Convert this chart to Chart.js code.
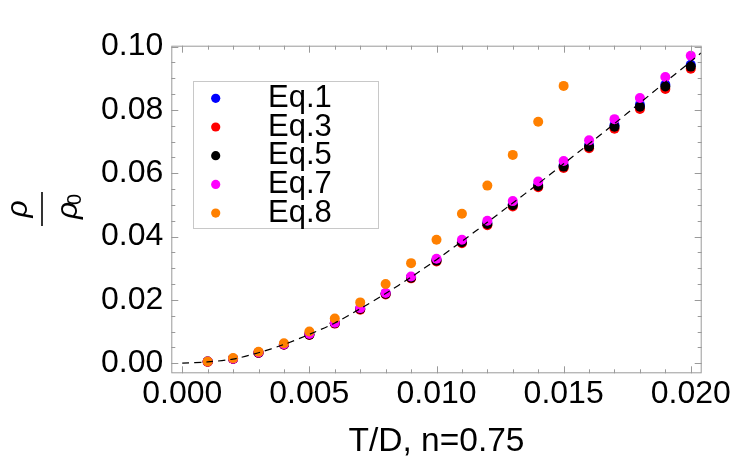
<!DOCTYPE html>
<html>
<head>
<meta charset="utf-8">
<script src="https://cdn.jsdelivr.net/npm/chart.js@4/dist/chart.umd.min.js"></script>
<style>
  html, body { margin: 0; padding: 0; background: #fff; }
  #wrap { width: 750px; height: 467px; }
</style>
</head>
<body>
<div id="wrap"><canvas id="c" width="750" height="467"></canvas></div>
<script>
// ---- data ----
const xValues = [0.001,0.002,0.003,0.004,0.005,0.006,0.007,0.008,0.009,0.010,
                 0.011,0.012,0.013,0.014,0.015,0.016,0.017,0.018,0.019,0.020];
const eq1 = [0.0005,0.0014,0.0033,0.0059,0.0091,0.0127,0.0172,0.0220,0.0271,0.0326,
             0.0384,0.0443,0.0502,0.0563,0.0625,0.0688,0.0752,0.0816,0.0880,0.0943];
const eq3 = [0.0004,0.0013,0.0032,0.0058,0.0089,0.0125,0.0169,0.0217,0.0268,0.0321,
             0.0379,0.0436,0.0495,0.0556,0.0617,0.0679,0.0741,0.0803,0.0866,0.0930];
const eq5 = [0.0005,0.0014,0.0033,0.0059,0.0090,0.0126,0.0171,0.0219,0.0270,0.0324,
             0.0382,0.0440,0.0499,0.0560,0.0621,0.0684,0.0747,0.0810,0.0874,0.0937];
const eq7 = [0.0005,0.0014,0.0034,0.0060,0.0092,0.0128,0.0174,0.0222,0.0274,0.0330,
             0.0390,0.0450,0.0512,0.0574,0.0639,0.0704,0.0771,0.0838,0.0904,0.0971];
const eq8 = [0.0005,0.0016,0.0036,0.0063,0.0100,0.0141,0.0192,0.0250,0.0316,0.0390,
             0.0472,0.0561,0.0658,0.0763,0.0876];
const fitX = [0,0.001,0.002,0.003,0.004,0.005,0.006,0.007,0.008,0.009,0.010,
              0.011,0.012,0.013,0.014,0.015,0.016,0.017,0.018,0.019,0.020,0.0204];
const fitY = [0,0.0004,0.0013,0.0033,0.0059,0.0091,0.0127,0.0172,0.0220,0.0272,0.0327,
              0.0385,0.0445,0.0506,0.0567,0.0630,0.0693,0.0757,0.0822,0.0888,0.0953,0.0980];
const seriesLabels = ['Eq.1','Eq.3','Eq.5','Eq.7','Eq.8'];
const seriesColors = ['#0000ff','#ff0000','#000000','#ff00ff','#ff8000'];

const xMajorTicks = [0,0.005,0.010,0.015,0.020];
const xTickLabels = ['0.000','0.005','0.010','0.015','0.020'];
const xMinorTicks = [0,0.001,0.002,0.003,0.004,0.005,0.006,0.007,0.008,0.009,0.010,
                     0.011,0.012,0.013,0.014,0.015,0.016,0.017,0.018,0.019,0.020];
const yMajorTicks = [0,0.02,0.04,0.06,0.08,0.10];
const yTickLabels = ['0.00','0.02','0.04','0.06','0.08','0.10'];
const yMinorTicks = [0,0.005,0.010,0.015,0.020,0.025,0.030,0.035,0.040,0.045,0.050,
                     0.055,0.060,0.065,0.070,0.075,0.080,0.085,0.090,0.095,0.100];
const xTitle = 'T/D, n=0.75';

// ---- helpers ----
const pts = (xs, ys) => ys.map((y, i) => ({x: xs[i], y}));
const near = (a, b) => Math.abs(a - b) < 1e-9;
const labelFor = (majors, labels) => (v) => {
  const i = majors.findIndex(m => near(m, v));
  return i >= 0 ? labels[i] : '';
};
const FONT = '"Liberation Sans", Arial, sans-serif';

const allSeries = [eq1, eq3, eq5, eq7, eq8];
const datasets = allSeries.map((s, i) => ({
  type: 'scatter',
  label: seriesLabels[i],
  data: pts(xValues, s),
  backgroundColor: seriesColors[i],
  borderColor: seriesColors[i],
  borderWidth: 0,
  pointRadius: 5,
  order: 5 - i
}));
datasets.push({
  type: 'line',
  label: 'fit',
  data: pts(fitX, fitY),
  borderColor: '#000',
  borderWidth: 1.2,
  borderDash: [7, 5],
  pointRadius: 0,
  fill: false,
  tension: 0.3,
  order: -1
});

const decor = {
  id: 'decor',
  afterDraw(chart) {
    const ctx = chart.ctx;
    const a = chart.chartArea;
    const xs = chart.scales.x, ys = chart.scales.y;
    ctx.save();
    // frame
    ctx.strokeStyle = '#9a9a9a';
    ctx.lineWidth = 1;
    ctx.strokeRect(a.left + 0.5, a.top + 0.5, a.right - a.left - 1, a.bottom - a.top - 1);
    // ticks
    ctx.beginPath();
    xMinorTicks.forEach(v => {
      const L = xMajorTicks.some(m => near(m, v)) ? 7 : 4;
      const px = Math.round(xs.getPixelForValue(v)) + 0.5;
      ctx.moveTo(px, a.bottom); ctx.lineTo(px, a.bottom - L);
      ctx.moveTo(px, a.top); ctx.lineTo(px, a.top + L);
    });
    yMinorTicks.forEach(v => {
      const L = yMajorTicks.some(m => near(m, v)) ? 7 : 4;
      const py = Math.round(ys.getPixelForValue(v)) + 0.5;
      ctx.moveTo(a.left, py); ctx.lineTo(a.left + L, py);
      ctx.moveTo(a.right, py); ctx.lineTo(a.right - L, py);
    });
    ctx.stroke();

    // legend
    const lx = 193.5, ly = 81.5, lw = 185, lh = 147;
    ctx.fillStyle = '#fff';
    ctx.fillRect(lx, ly, lw, lh);
    ctx.strokeStyle = '#c8c8c8';
    ctx.strokeRect(lx, ly, lw, lh);
    ctx.font = '31px ' + FONT;
    ctx.textAlign = 'left';
    ctx.textBaseline = 'alphabetic';
    chart.data.datasets.slice(0, 5).forEach((ds, i) => {
      const cy = 98.3 + i * 28.7;
      ctx.fillStyle = ds.backgroundColor;
      ctx.beginPath();
      ctx.arc(215.7, cy, 4.6, 0, Math.PI * 2);
      ctx.fill();
      ctx.fillStyle = '#000';
      ctx.fillText(ds.label, 268, cy + 8.5);
    });

    // x title
    ctx.fillStyle = '#000';
    ctx.font = '33.5px ' + FONT;
    ctx.textAlign = 'center';
    ctx.fillText(xTitle, (a.left + a.right) / 2, 451.2);

    // y title: rho / rho_0, rotated
    ctx.translate(42, 209);
    ctx.rotate(-Math.PI / 2);
    ctx.font = 'italic 30px ' + FONT;
    ctx.textAlign = 'center';
    ctx.fillText('ρ', 0, -15);
    ctx.beginPath();
    ctx.strokeStyle = '#000';
    ctx.lineWidth = 1.6;
    ctx.moveTo(-17, 0); ctx.lineTo(17, 0);
    ctx.stroke();
    ctx.textAlign = 'left';
    ctx.fillText('ρ', -10, 35);
    ctx.font = '20px ' + FONT;
    ctx.fillText('0', 4, 39);
    ctx.restore();
  }
};

new Chart(document.getElementById('c'), {
  data: { datasets },
  options: {
    responsive: false,
    animation: false,
    devicePixelRatio: 1,
    layout: { padding: { top: 45.7, right: 48.3, bottom: 0, left: 0 } },
    plugins: { legend: { display: false }, tooltip: { enabled: false } },
    scales: {
      x: {
        type: 'linear',
        min: -0.00043, max: 0.02043,
        grid: { display: false, drawTicks: false },
        border: { display: false },
        afterBuildTicks: s => { s.ticks = xMinorTicks.map(v => ({value: v})); },
        afterFit: s => { s.height = 93.7; },
        ticks: {
          autoSkip: false, maxRotation: 0, padding: 2,
          color: '#000',
          font: { family: FONT, size: 32 },
          callback: labelFor(xMajorTicks, xTickLabels)
        }
      },
      y: {
        type: 'linear',
        min: -0.0032, max: 0.1003,
        grid: { display: false, drawTicks: false },
        border: { display: false },
        afterBuildTicks: s => { s.ticks = yMinorTicks.map(v => ({value: v})); },
        afterFit: s => { s.width = 171.3; },
        ticks: {
          autoSkip: false, padding: 8,
          color: '#000',
          font: { family: FONT, size: 32 },
          callback: labelFor(yMajorTicks, yTickLabels)
        }
      }
    }
  },
  plugins: [decor]
});
</script>
</body>
</html>
